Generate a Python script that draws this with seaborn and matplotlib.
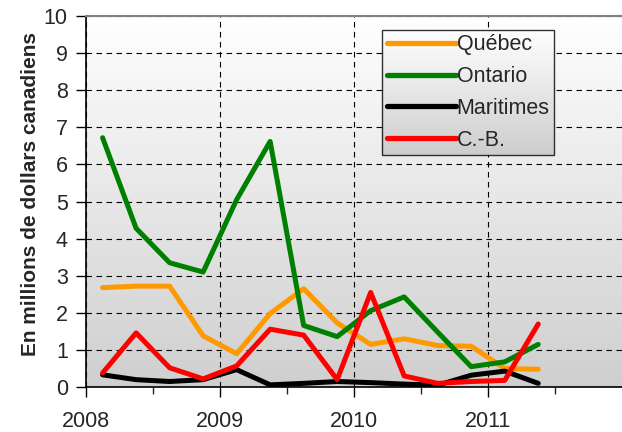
import numpy as np
import pandas as pd
import matplotlib.pyplot as plt
import seaborn as sns

# quarterly points (mid-quarter), 2008 Q1 .. 2011 Q2
periods = [2008.125, 2008.375, 2008.625, 2008.875,
           2009.125, 2009.375, 2009.625, 2009.875,
           2010.125, 2010.375, 2010.625, 2010.875,
           2011.125, 2011.375]
quebec = [2.68, 2.72, 2.72, 1.38, 0.9, 1.98, 2.65, 1.73, 1.15, 1.3, 1.12, 1.1, 0.5, 0.48]
ontario = [6.72, 4.28, 3.35, 3.1, 5.05, 6.62, 1.66, 1.36, 2.06, 2.43, 1.48, 0.55, 0.68, 1.15]
maritimes = [0.33, 0.2, 0.15, 0.2, 0.47, 0.06, 0.1, 0.15, 0.12, 0.08, 0.05, 0.32, 0.43, 0.1]
cb = [0.38, 1.46, 0.52, 0.22, 0.57, 1.56, 1.4, 0.2, 2.55, 0.3, 0.1, 0.15, 0.18, 1.7]
regions = ['Québec', 'Ontario', 'Maritimes', 'C.-B.']
colors = ['#ff9900', '#008000', '#000000', '#ff0000']
year_ticks = [2008, 2009, 2010, 2011]

df = pd.DataFrame({'periode': periods * 4,
                   'valeur': quebec + ontario + maritimes + cb,
                   'region': np.repeat(regions, len(periods))})

sns.set_style('ticks')
plt.rcParams['font.family'] = ['Liberation Sans', 'DejaVu Sans']

fig = plt.figure(figsize=(6.22, 4.32), dpi=100)
ax = fig.add_axes([0.138, 0.104, 0.862, 0.859])

# gradient background
grad = np.linspace(0, 1, 256).reshape(-1, 1)
ax.imshow(grad, extent=[2008, 2012, 0, 10], aspect='auto', origin='upper',
          cmap=plt.matplotlib.colors.LinearSegmentedColormap.from_list('g', ['#ffffff', '#cfcfcf']),
          zorder=0)

sns.lineplot(data=df, x='periode', y='valeur', hue='region', hue_order=regions,
             palette=dict(zip(regions, colors)), linewidth=3.6, ax=ax, zorder=3)

ax.set_xlim(2008, 2012)
ax.set_ylim(0, 10)
ax.set_yticks(range(0, 11))
ax.set_xticks(year_ticks)
ax.set_xticks([2008.5, 2009.5, 2010.5, 2011.5], minor=True)
ax.tick_params(axis='both', labelsize=15.5, direction='out', length=7, width=1, color='black')
ax.tick_params(axis='x', which='minor', length=5, width=1)
ax.tick_params(axis='x', pad=10)
ax.tick_params(axis='y', pad=6)

ax.grid(True, axis='both', which='major', color='black', linestyle=(0, (5, 4)), linewidth=0.8, zorder=1)
ax.set_axisbelow(True)

for s in ['left', 'bottom']:
    ax.spines[s].set_color('black')
    ax.spines[s].set_linewidth(1.2)
ax.spines['top'].set_color('#808080')
ax.spines['top'].set_linewidth(1.5)
ax.spines['right'].set_visible(False)

ax.set_xlabel('')
ax.set_ylabel('En millions de dollars canadiens', fontsize=15, fontweight='bold')
ax.yaxis.set_label_coords(-0.085, 0.52)

leg = ax.legend(loc='upper left', bbox_to_anchor=(0.553, 0.962), borderaxespad=0, fontsize=15.5,
                frameon=True, fancybox=False, edgecolor='black', handlelength=3.2, handletextpad=0.05,
                labelspacing=0.5, borderpad=0.2)
leg.get_frame().set_facecolor('none')
leg.get_frame().set_linewidth(1)
leg.set_zorder(6)
for h in leg.get_lines():
    h.set_linewidth(3.8)

# gradient behind legend box
fig.canvas.draw()
bb = leg.get_window_extent().transformed(ax.transAxes.inverted())
ax.imshow(grad, extent=[bb.x0, bb.x1, bb.y0, bb.y1], transform=ax.transAxes, aspect='auto',
          origin='upper',
          cmap=plt.matplotlib.colors.LinearSegmentedColormap.from_list('l', ['#ffffff', '#cdcdcd']),
          zorder=5)
ax.set_xlim(2008, 2012)
ax.set_ylim(0, 10)

fig.savefig('out.png', dpi=100)
